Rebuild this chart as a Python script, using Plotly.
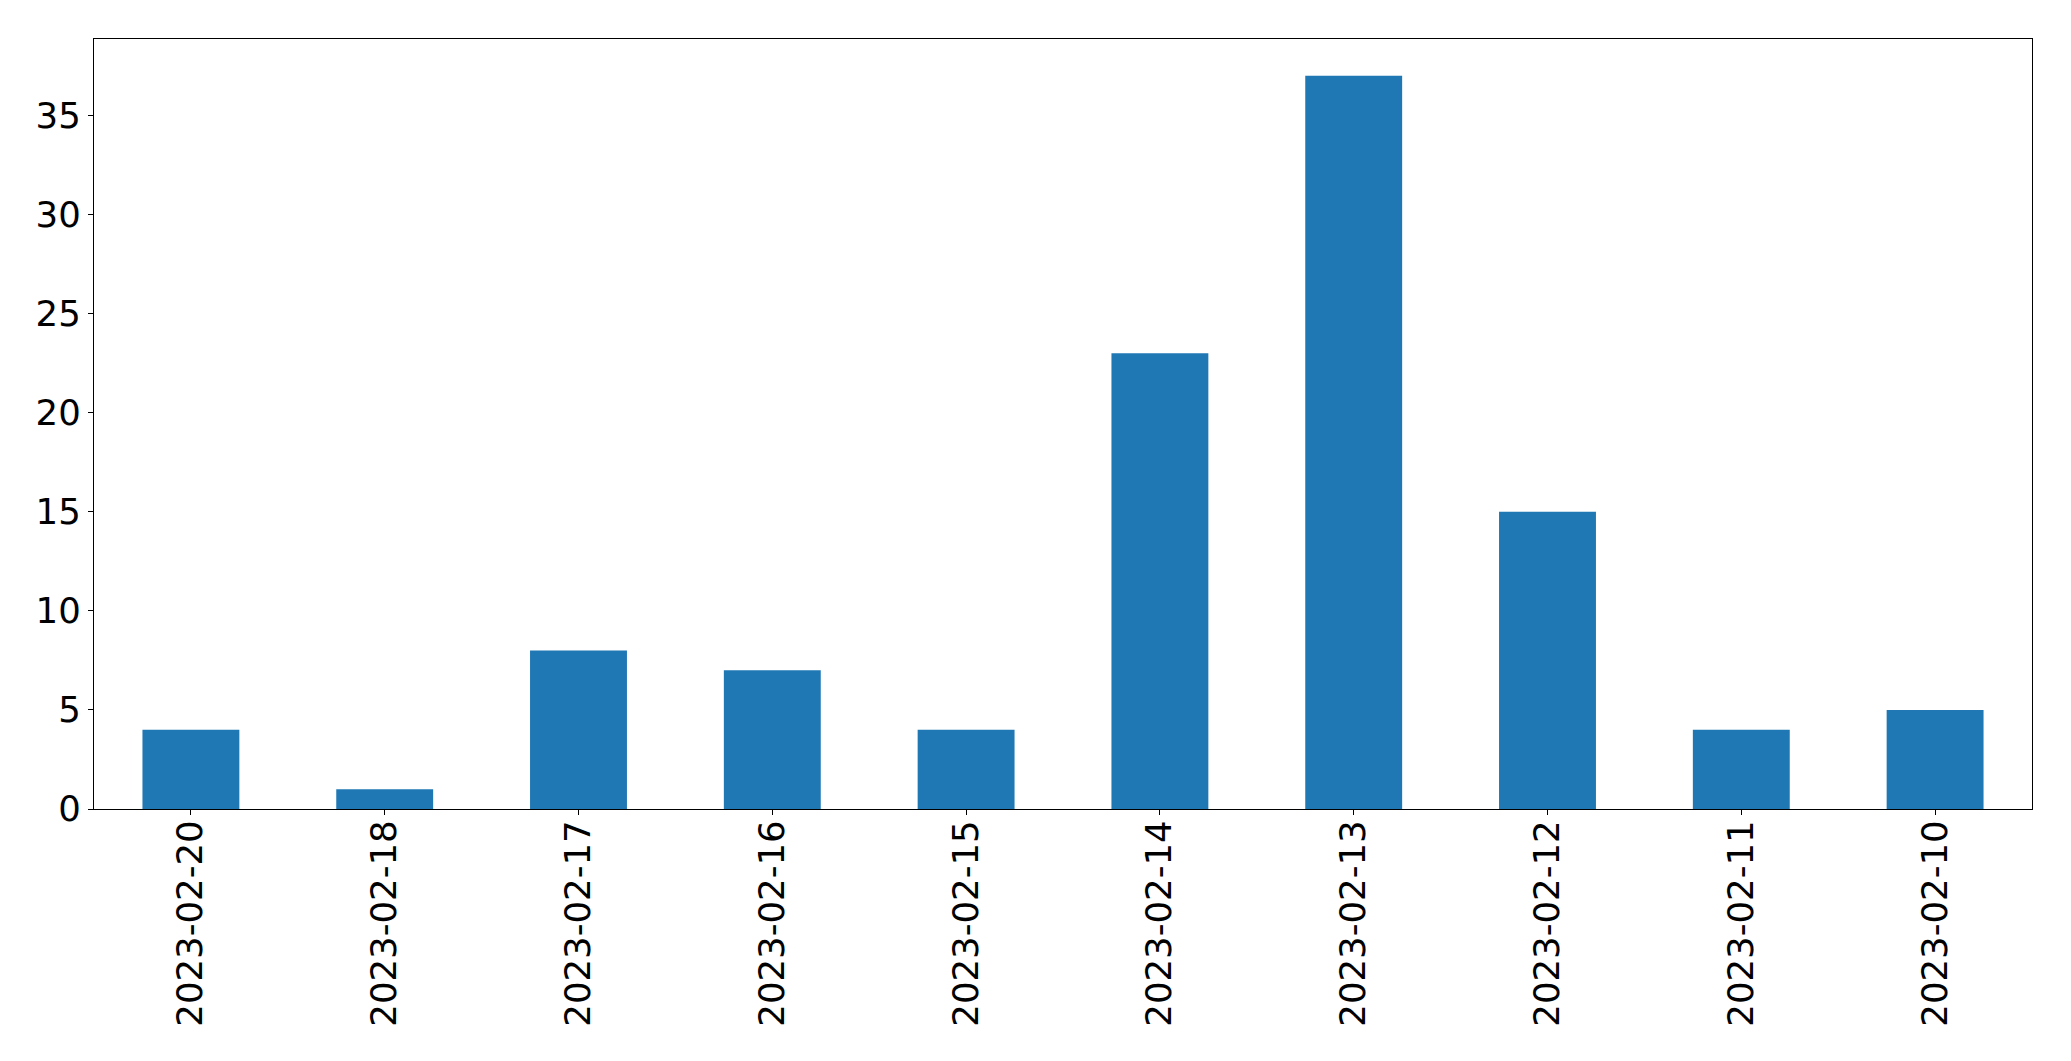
import plotly.graph_objects as go

dates = ["2023-02-20", "2023-02-18", "2023-02-17", "2023-02-16", "2023-02-15",
         "2023-02-14", "2023-02-13", "2023-02-12", "2023-02-11", "2023-02-10"]
counts = [4, 1, 8, 7, 4, 23, 37, 15, 4, 5]
y_ticks = [0, 5, 10, 15, 20, 25, 30, 35]

fig = go.Figure(go.Bar(x=dates, y=counts, marker_color="#1f77b4",
                       marker_line_width=0, width=0.5))

# page body has an 8px margin, so shift by 8px
fig.update_layout(
    width=2063, height=1053,
    margin=dict(l=86, r=39, t=31, b=252, autoexpand=False),
    plot_bgcolor="white", paper_bgcolor="white",
    font=dict(family="DejaVu Sans", size=35.5, color="black"),
    showlegend=False,
)
fig.update_xaxes(type="category", range=[-0.5, len(dates) - 0.5],
                 tickangle=-90, ticks="outside", ticklen=5, tickwidth=1.3,
                 tickcolor="black", showline=True, mirror=True,
                 linecolor="black", linewidth=1.3, showgrid=False,
                 tickfont=dict(size=35.5), ticklabelstandoff=-9)
fig.update_yaxes(range=[0, max(counts) * 1.05], tickvals=y_ticks,
                 ticks="outside", ticklen=5, tickwidth=1.3, tickcolor="black",
                 showline=True, mirror=True, linecolor="black", linewidth=1.3,
                 showgrid=False, zeroline=False, tickfont=dict(size=35.5))

fig.write_html("out.html")
